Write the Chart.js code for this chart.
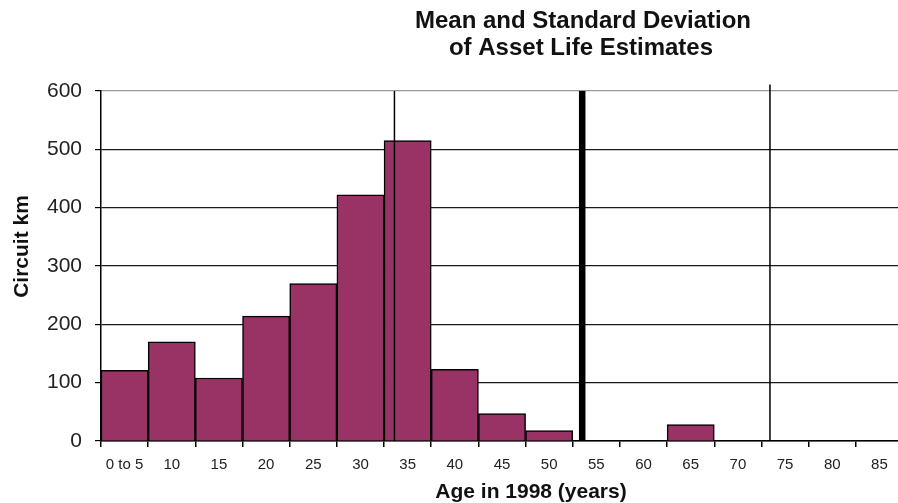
<!DOCTYPE html>
<html>
<head>
<meta charset="utf-8">
<script src="https://cdn.jsdelivr.net/npm/chart.js@4/dist/chart.umd.min.js"></script>
<style>
  html, body { margin: 0; padding: 0; background: #fff; overflow: hidden; }
  #wrap { position: relative; width: 903px; height: 503px; }
</style>
</head>
<body>
<div id="wrap"><canvas id="c"></canvas></div>
<script>
// Age bands (upper bound of each 5-year band) and circuit length in each band
const ageBands = ['0 to 5', '10', '15', '20', '25', '30', '35', '40', '45', '50', '55', '60', '65', '70', '75', '80', '85'];
const circuitKm = [121, 170, 108, 214, 270, 422, 515, 123, 47, 18, 0, 0, 28, 0, 0, 0, 0];
const yTicks = [0, 100, 200, 300, 400, 500, 600];

// Asset life estimate statistics (years)
const meanLife = 51.0;
const stdDevLife = 19.9;

const chartTitle = ['Mean and Standard Deviation', 'of Asset Life Estimates'];
const xTitle = 'Age in 1998 (years)';
const yTitle = 'Circuit km';

const FONT = '"Liberation Sans", Arial, sans-serif';
const yMax = yTicks[yTicks.length - 1];
const ageMax = ageBands.length * 5;

// Titles are placed freely on the canvas
const titleText = {
  id: 'titleText',
  afterDraw(chart) {
    const ctx = chart.ctx;
    ctx.save();
    ctx.fillStyle = '#111';
    ctx.textAlign = 'center';
    ctx.textBaseline = 'alphabetic';
    ctx.font = 'bold 24px ' + FONT;
    ctx.fillText(chartTitle[0], 583, 28);
    ctx.fillText(chartTitle[1], 581, 55);
    ctx.font = 'bold 21px ' + FONT;
    ctx.fillText(xTitle, 531, 498);
    ctx.translate(22.5, 246.5);
    ctx.rotate(-Math.PI / 2);
    ctx.textBaseline = 'middle';
    ctx.fillText(yTitle, 0, 0);
    ctx.restore();
  }
};

// Vertical marker line on the continuous age axis
function vline(age, top, width) {
  return {
    type: 'line',
    xAxisID: 'age',
    yAxisID: 'y',
    data: [{ x: age, y: 0 }, { x: age, y: top }],
    borderColor: '#000',
    borderWidth: width,
    pointRadius: 0,
    fill: false,
    clip: false,
    order: 0
  };
}

new Chart(document.getElementById('c'), {
  type: 'bar',
  data: {
    labels: ageBands,
    datasets: [
      {
        data: circuitKm,
        xAxisID: 'x',
        yAxisID: 'y',
        backgroundColor: '#993366',
        borderColor: '#000',
        borderWidth: 1.5,
        barPercentage: 1,
        categoryPercentage: 1,
        grouped: false,
        order: 1
      },
      vline(meanLife - stdDevLife, yMax, 1.5),
      vline(meanLife, yMax, 6.5),
      vline(meanLife + stdDevLife, 611, 1.5)
    ]
  },
  options: {
    responsive: true,
    maintainAspectRatio: false,
    animation: false,
    events: [],
    layout: { padding: { top: 91, left: 0, right: 0, bottom: 0 } },
    plugins: { legend: { display: false }, tooltip: { enabled: false }, title: { display: false } },
    scales: {
      x: {
        type: 'category',
        offset: true,
        afterFit(scale) { scale.height = 62; },
        grid: { offset: true, drawOnChartArea: false, drawTicks: true, tickLength: 6, color: '#000', tickColor: '#000', lineWidth: 1.5 },
        border: { color: '#000', width: 1.5 },
        ticks: { font: { family: FONT, size: 15 }, color: '#222', padding: 9, maxRotation: 0, autoSkip: false }
      },
      age: {
        type: 'linear',
        axis: 'x',
        position: 'bottom',
        display: false,
        offset: false,
        grid: { offset: false },
        min: 0,
        max: ageMax
      },
      y: {
        min: 0,
        max: yMax,
        afterFit(scale) { scale.width = 101; },
        afterBuildTicks(scale) { scale.ticks = yTicks.map(v => ({ value: v })); },
        grid: {
          color: ctx => (ctx.tick && ctx.tick.value === yMax ? '#999' : '#1a1a1a'),
          tickColor: '#000',
          tickLength: 6,
          lineWidth: 1.2
        },
        border: { color: '#000', width: 1.5 },
        ticks: { font: { family: FONT, size: 21 }, color: '#222', padding: 13 }
      }
    }
  },
  plugins: [titleText]
});
</script>
</body>
</html>
